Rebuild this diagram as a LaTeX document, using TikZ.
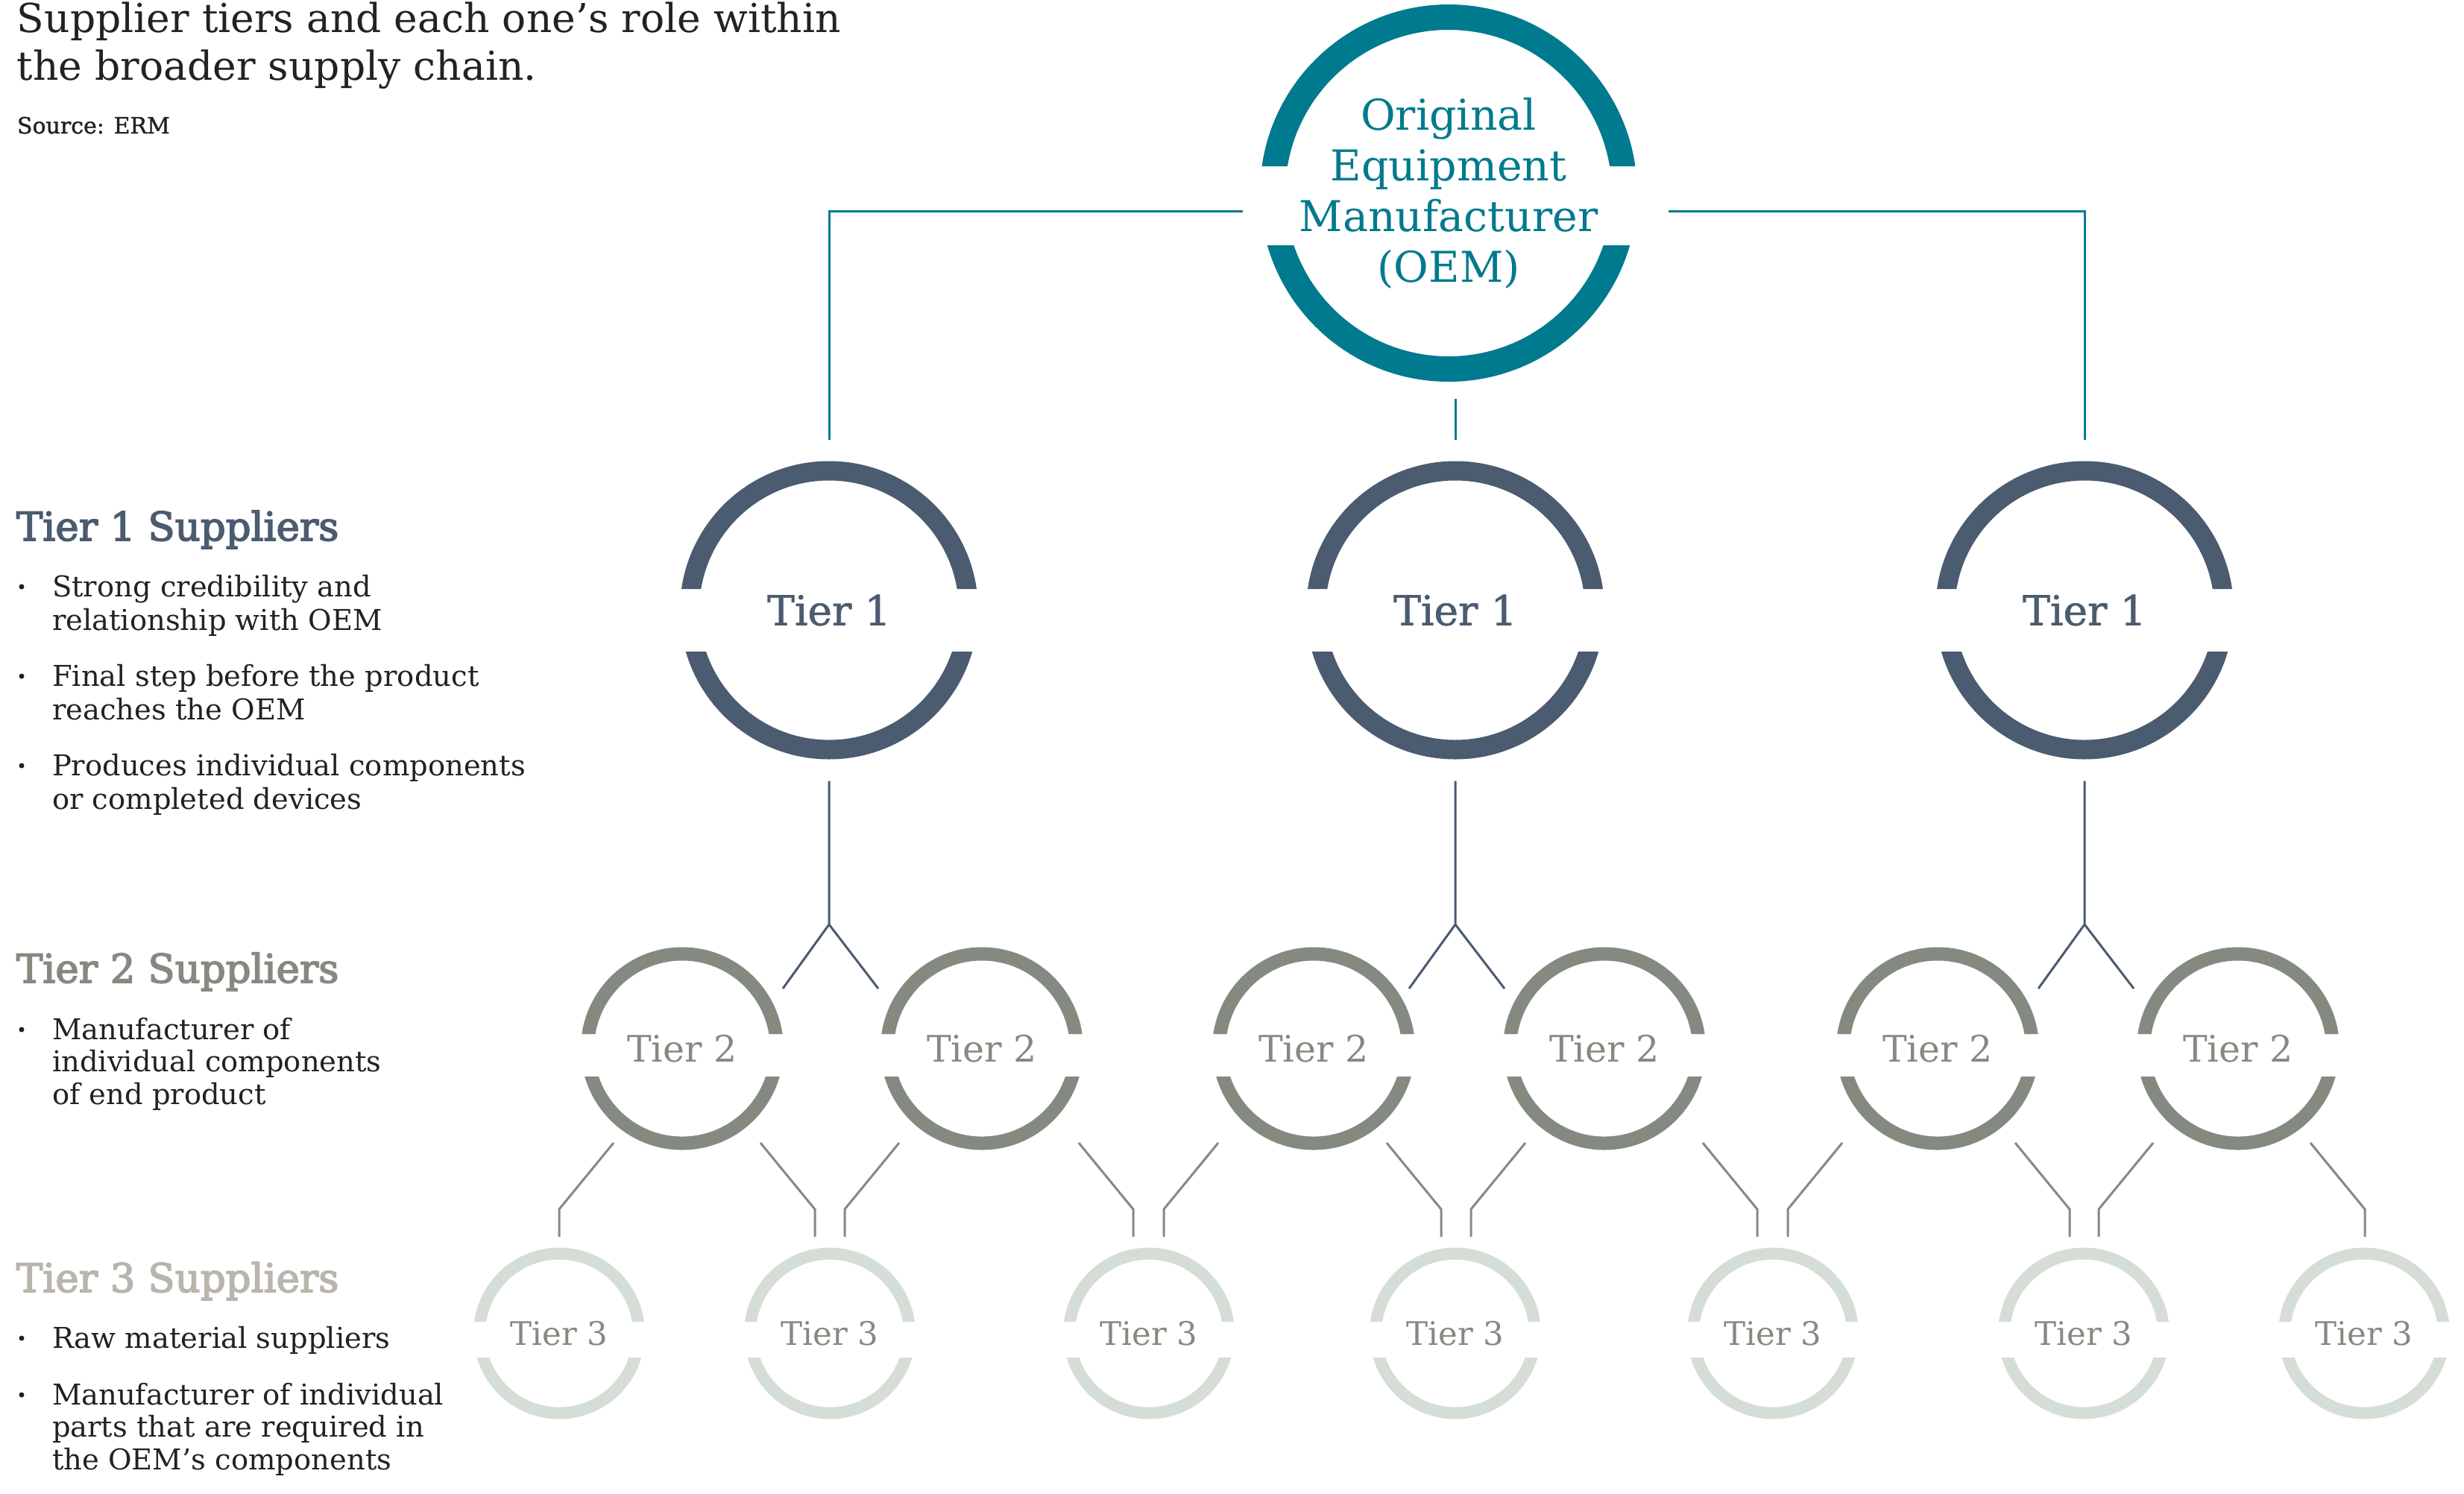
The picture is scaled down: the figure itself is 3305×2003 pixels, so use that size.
\documentclass[tikz,border=0pt]{standalone}
\usepackage{fontspec}
\setmainfont{DejaVu Serif}
\newfontfamily\headfont{DejaVu Serif}[FakeBold=3]
\newfontfamily\labelfont{DejaVu Serif}[FakeBold=1.2]
\usetikzlibrary{calc}
\definecolor{oemteal}{RGB}{0,122,142}
\definecolor{slate}{RGB}{75,91,112}
\definecolor{tiertwo}{RGB}{133,138,128}
\definecolor{tierthreering}{RGB}{213,222,214}
\definecolor{tierthreehead}{RGB}{185,181,173}
\definecolor{bodytext}{RGB}{34,34,34}
\newcommand\fsz[1]{\fontsize{#1}{#1}\selectfont}
\newcommand\ringat[6]{%
  \begin{scope}
    \clip ($(#1.center)+(-320,-320)$) rectangle ($(#1.center)+(320,-#4)$)
          ($(#1.center)+(-320,#5)$) rectangle ($(#1.center)+(320,320)$);
    \draw[draw=#6, line width=#3] (#1.center) circle[radius=#2];
  \end{scope}}
\begin{document}
\begin{tikzpicture}[x=1pt,y=-1pt,
  every node/.style={inner sep=0pt, outer sep=0pt},
  ringnode/.style={circle, align=center},
  oemnode/.style={ringnode, minimum size=560pt, text=oemteal, font={\fontsize{57}{68}\selectfont}},
  onenode/.style={ringnode, minimum size=458pt, text=slate, font={\labelfont\fsz{55}}},
  twonode/.style={ringnode, minimum size=300pt, text=tiertwo, font=\fsz{49}},
  threenode/.style={ringnode, minimum size=259pt, text=tiertwo, font=\fsz{43.5}},
  line/.style={line width=3pt},
  tealline/.style={line, draw=oemteal},
  slateline/.style={line, draw=slate},
  grayline/.style={line, draw=tiertwo},
  txt/.style={anchor=base west, text=bodytext, font=\fsz{38.5}},
  head/.style={anchor=base west, font={\headfont\fsz{53}}},
  bullet/.style={fill=bodytext}
]
\useasboundingbox (0,0) rectangle (3305,2003);
\fill[white] (0,0) rectangle (3305,2003);

% ---------- title ----------
\node[anchor=base west, text=bodytext, font=\fsz{53.5}] (title1) at (23,43) {Supplier tiers and each one’s role within};
\node[anchor=base west, text=bodytext, font=\fsz{53.5}] (title2) at (23,107) {the broader supply chain.};
\node[anchor=base west, text=bodytext, font={\labelfont\fsz{30}}] (source) at (23,179) {Source: ERM};

% ---------- left legend ----------
\node[head, text=slate] (h1) at (22,725) {Tier 1 Suppliers};
\fill[bullet] (29,787) circle[radius=3.5];
\node[txt] (b1a) at (70,800) {Strong credibility and};
\node[txt] (b1b) at (70,845) {relationship with OEM};
\fill[bullet] (29,907) circle[radius=3.5];
\node[txt] (b2a) at (70,920) {Final step before the product};
\node[txt] (b2b) at (70,965) {reaches the OEM};
\fill[bullet] (29,1027) circle[radius=3.5];
\node[txt] (b3a) at (70,1040) {Produces individual components};
\node[txt] (b3b) at (70,1085) {or completed devices};

\node[head, text=tiertwo] (h2) at (22,1318) {Tier 2 Suppliers};
\fill[bullet] (29,1381) circle[radius=3.5];
\node[txt] (c1a) at (70,1394) {Manufacturer of};
\node[txt] (c1b) at (70,1437) {individual components};
\node[txt] (c1c) at (70,1481) {of end product};

\node[head, text=tierthreehead] (h3) at (22,1733) {Tier 3 Suppliers};
\fill[bullet] (29,1795) circle[radius=3.5];
\node[txt] (d1a) at (70,1808) {Raw material suppliers};
\fill[bullet] (29,1871) circle[radius=3.5];
\node[txt] (d2a) at (70,1884) {Manufacturer of individual};
\node[txt] (d2b) at (70,1927) {parts that are required in};
\node[txt] (d2c) at (70,1971) {the OEM’s components};

% ---------- nodes ----------
\node[oemnode] (oem) at (1943,259) {Original\\Equipment\\Manufacturer\\(OEM)};

\node[onenode] (t1a) at (1112,818.5) {Tier 1};
\node[onenode] (t1b) at (1952,818.5) {Tier 1};
\node[onenode] (t1c) at (2796,818.5) {Tier 1};

\node[twonode] (t2a) at (915,1406.5) {Tier 2};
\node[twonode] (t2b) at (1317,1406.5) {Tier 2};
\node[twonode] (t2c) at (1762,1406.5) {Tier 2};
\node[twonode] (t2d) at (2152,1406.5) {Tier 2};
\node[twonode] (t2e) at (2599,1406.5) {Tier 2};
\node[twonode] (t2f) at (3002,1406.5) {Tier 2};

\node[threenode] (t3a) at (750,1788.5) {Tier 3};
\node[threenode] (t3b) at (1113,1788.5) {Tier 3};
\node[threenode] (t3c) at (1541,1788.5) {Tier 3};
\node[threenode] (t3d) at (1952,1788.5) {Tier 3};
\node[threenode] (t3e) at (2378,1788.5) {Tier 3};
\node[threenode] (t3f) at (2795,1788.5) {Tier 3};
\node[threenode] (t3g) at (3171,1788.5) {Tier 3};

% ---------- rings ----------
\ringat{oem}{236}{34pt}{36}{70}{oemteal}
\foreach \n in {t1a,t1b,t1c}{\ringat{\n}{187}{26pt}{28.5}{55.5}{slate}}
\foreach \n in {t2a,t2b,t2c,t2d,t2e,t2f}{\ringat{\n}{127}{18pt}{19.5}{37.5}{tiertwo}}
\foreach \n in {t3a,t3b,t3c,t3d,t3e,t3f,t3g}{\ringat{\n}{107}{16pt}{15.5}{32.5}{tierthreering}}

% ---------- OEM to Tier 1 ----------
\coordinate (oemL) at ($(oem.center)+(-276,24)$);
\coordinate (oemR) at ($(oem.center)+(295,24)$);
\coordinate (oemB) at ($(t1b.north)+(0,-55)$);
\draw[tealline] (oemL) -| (t1a.north);
\draw[tealline] (oemR) -| (t1c.north);
\draw[tealline] (oemB) -- (t1b.north);

% ---------- Tier 1 to Tier 2 ----------
\foreach \n in {t1a,t1b,t1c}{
  \draw[slateline] (\n.south) -- ++(0,192.5) coordinate (fk) -- ++(-62,86);
  \draw[slateline] (fk) -- ++(66,86);
}

% ---------- Tier 2 to Tier 3 ----------
\foreach \a/\dx/\b/\sx in {t2a/-92/t3a/-73, t2a/105/t3b/73,
                           t2b/-111/t3b/-73, t2b/130/t3c/73,
                           t2c/-128/t3c/-73, t2c/98/t3d/73,
                           t2d/-106/t3d/-73, t2d/132/t3e/73,
                           t2e/-128/t3e/-73, t2e/104/t3f/73,
                           t2f/-114/t3f/-73, t2f/97/t3g/73}{
  \draw[grayline] ($(\a.center)+(\dx,126.5)$) -- ++(\sx,89) coordinate (bend) -- (bend |- \b.north);
}
\end{tikzpicture}
\end{document}
